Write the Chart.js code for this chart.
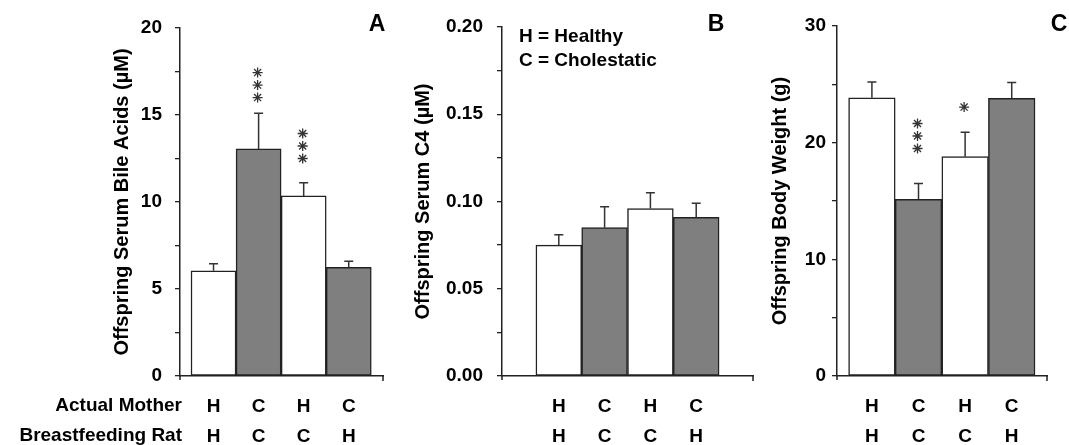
<!DOCTYPE html>
<html lang="en">
<head>
<meta charset="UTF-8">
<title>Offspring bile acids, C4 and body weight</title>
<script src="https://cdn.jsdelivr.net/npm/chart.js@4.4.1/dist/chart.umd.min.js"></script>
<style>
  body { margin: 0; background: #fff; }
  #wrap { position: relative; width: 1069px; height: 445px; }
  canvas { position: absolute; top: 0; }
</style>
</head>
<body>
<div id="wrap">
  <canvas id="chartA" width="395" height="445" style="left:0"></canvas>
  <canvas id="chartB" width="365" height="445" style="left:395px"></canvas>
  <canvas id="chartC" width="309" height="445" style="left:760px"></canvas>
</div>
<script>
// groups: actual mother / breastfeeding rat (H = healthy, C = cholestatic)
var actualMother = ['H', 'C', 'H', 'C'];
var breastfeedingRat = ['H', 'C', 'C', 'H'];
var barPos = [1, 2, 3, 4];
var barColors = ['#ffffff', '#7f7f7f', '#ffffff', '#7f7f7f'];

// A - serum bile acids (uM)
var bileAcids = [6.05, 13.05, 10.35, 6.25];
var bileAcidsErr = [0.4, 2.05, 0.75, 0.35];
var bileAcidsStars = [0, 3, 3, 0];
var bileAcidsStarAt = [null, 16.0, 12.5, null];

// B - serum C4 (uM)
var serumC4 = [0.075, 0.085, 0.096, 0.091];
var serumC4Err = [0.006, 0.012, 0.009, 0.008];

// C - body weight (g)
var bodyWeight = [23.85, 15.15, 18.8, 23.8];
var bodyWeightErr = [1.35, 1.35, 2.1, 1.35];
var bodyWeightStars = [0, 3, 1, 0];
var bodyWeightStarAt = [null, 19.5, 23.05, null];

Chart.defaults.font.family = '"Liberation Sans", Arial, sans-serif';
Chart.defaults.font.weight = 'bold';
Chart.defaults.color = '#000';

var INK = '#222';

function drawStar(ctx, x, y) {
  ctx.beginPath();
  for (var k = 0; k < 4; k++) {
    var a = k * Math.PI / 4;
    ctx.moveTo(x - 5 * Math.cos(a), y - 5 * Math.sin(a));
    ctx.lineTo(x + 5 * Math.cos(a), y + 5 * Math.sin(a));
  }
  ctx.stroke();
}

// error bars, significance stars and panel text
function extras(p) {
  return {
    id: 'extras' + p.letter,
    afterDatasetsDraw: function(chart) {
      var ctx = chart.ctx, ys = chart.scales.y, area = chart.chartArea;
      var bars = chart.getDatasetMeta(0).data;
      ctx.save();
      ctx.strokeStyle = '#333';
      ctx.lineWidth = 1.5;
      bars.forEach(function(bar, i) {
        var top = ys.getPixelForValue(p.values[i] + p.errors[i]);
        ctx.beginPath();
        ctx.moveTo(bar.x, bar.y);
        ctx.lineTo(bar.x, top);
        ctx.moveTo(bar.x - 4.5, top);
        ctx.lineTo(bar.x + 4.5, top);
        ctx.stroke();
        if (p.stars && p.stars[i]) {
          var sy = ys.getPixelForValue(p.starAt[i]);
          ctx.lineWidth = 1.3;
          for (var s = 0; s < p.stars[i]; s++) drawStar(ctx, bar.x - 1, sy - s * 12.5);
          ctx.lineWidth = 1.5;
        }
      });

      // little axis end marks
      ctx.strokeStyle = INK;
      ctx.beginPath();
      ctx.moveTo(area.left, area.bottom);
      ctx.lineTo(area.left, area.bottom + 4);
      ctx.moveTo(area.right, area.bottom);
      ctx.lineTo(area.right, area.bottom + 5);
      ctx.stroke();

      ctx.fillStyle = '#000';
      ctx.textBaseline = 'middle';
      ctx.textAlign = 'center';
      ctx.font = 'bold 23px "Liberation Sans", Arial, sans-serif';
      ctx.fillText(p.letter, p.letterX, 25);

      ctx.font = 'bold 19px "Liberation Sans", Arial, sans-serif';
      if (p.rowLabels) {
        ctx.textAlign = 'right';
        ctx.fillText('Actual Mother', 182, 406);
        ctx.fillText('Breastfeeding Rat', 182, 436);
      }
      if (p.key) {
        ctx.textAlign = 'left';
        ctx.fillText('H = Healthy', p.keyX, 37);
        ctx.fillText('C = Cholestatic', p.keyX, 61);
      }
      ctx.restore();
    }
  };
}

function makePanel(id, p) {
  return new Chart(document.getElementById(id), {
    type: 'bar',
    data: {
      datasets: [{
        data: p.values.map(function(v, i) { return { x: barPos[i], y: v }; }),
        backgroundColor: barColors,
        borderColor: INK,
        borderWidth: 1.5,
        borderSkipped: false,
        barPercentage: 1,
        categoryPercentage: 1
      }]
    },
    options: {
      responsive: false,
      animation: false,
      layout: { padding: { top: p.top, right: p.right, left: 0, bottom: 0 } },
      plugins: { legend: { display: false }, tooltip: { enabled: false } },
      scales: {
        x: {
          type: 'linear',
          offset: false,
          min: p.xMin,
          max: p.xMax,
          grid: { display: false, offset: false },
          border: { display: true, color: INK, width: 1.5 },
          afterBuildTicks: function(s) {
            s.ticks = barPos.map(function(v) { return { value: v }; });
          },
          afterFit: function(s) { s.height = 445 - p.bottom; },
          ticks: {
            autoSkip: false,
            maxRotation: 0,
            padding: 8,
            font: { size: 19, weight: 'bold', lineHeight: 30 / 19 },
            callback: function(v, i) { return [actualMother[i], breastfeedingRat[i]]; }
          }
        },
        y: {
          min: 0,
          max: p.yMax,
          grid: { drawOnChartArea: false, drawTicks: true, tickLength: 5, color: INK, lineWidth: 1.3 },
          border: { display: true, color: INK, width: 1.5 },
          afterFit: function(s) { s.width = p.axisX; },
          ticks: {
            stepSize: p.step,
            padding: p.tickPad,
            font: { size: 19, weight: 'bold' },
            callback: p.fmt
          },
          title: {
            display: true,
            text: p.title,
            font: { size: 20, weight: 'bold' },
            padding: { top: p.titlePad, bottom: 0 }
          }
        }
      }
    },
    plugins: [extras(p)]
  });
}

makePanel('chartA', {
  letter: 'A', letterX: 377, rowLabels: true,
  values: bileAcids, errors: bileAcidsErr, stars: bileAcidsStars, starAt: bileAcidsStarAt,
  title: 'Offspring Serum Bile Acids (µM)', titlePad: 110,
  axisX: 180, top: 28, right: 12, bottom: 376,
  xMin: 0.256, xMax: 4.76,
  yMax: 20, step: 2.5, tickPad: 13,
  fmt: function(v) { return v % 5 === 0 ? v : ''; }
});

makePanel('chartB', {
  letter: 'B', letterX: 321, key: true, keyX: 124,
  values: serumC4, errors: serumC4Err,
  title: 'Offspring Serum C4 (µM)', titlePad: 16,
  axisX: 107, top: 27, right: 7, bottom: 376,
  xMin: -0.24, xMax: 5.24,
  yMax: 0.2, step: 0.025, tickPad: 14,
  fmt: function(v) { return Math.round(v * 1000) % 50 === 0 ? v.toFixed(2) : ''; }
});

makePanel('chartC', {
  letter: 'C', letterX: 299,
  values: bodyWeight, errors: bodyWeightErr, stars: bodyWeightStars, starAt: bodyWeightStarAt,
  title: 'Offspring Body Weight (g)', titlePad: 8,
  axisX: 77, top: 26, right: 22, bottom: 376,
  xMin: 0.251, xMax: 4.757,
  yMax: 30, step: 5, tickPad: 6,
  fmt: function(v) { return v % 10 === 0 ? v : ''; }
});
</script>
</body>
</html>
